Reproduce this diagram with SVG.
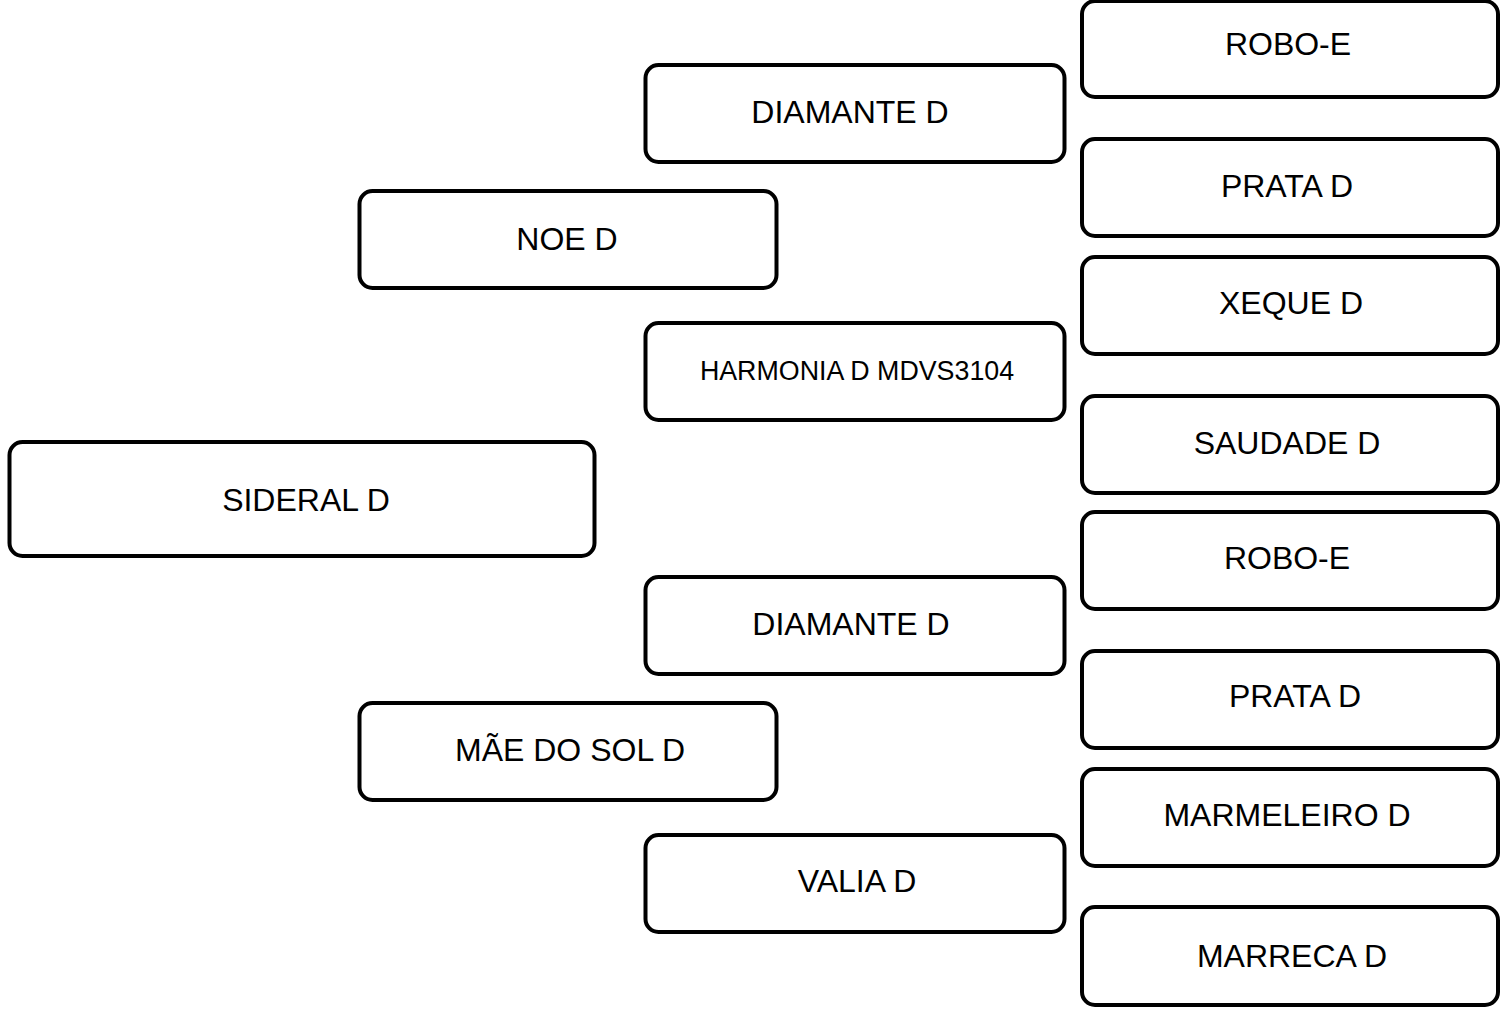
<svg xmlns="http://www.w3.org/2000/svg" width="1501" height="1011" viewBox="0 0 1501 1011">
<style>
.box{fill:#fff;stroke:#000;stroke-width:4}
.t{font-family:"Liberation Sans",Arial,sans-serif;font-size:32px;fill:#000;text-anchor:middle}
.s{font-size:26.8px}
</style>
<rect width="1501" height="1011" fill="#fff"/>
<g id="connectors"></g>
<g id="n-sideral"><rect class="box" x="9.5" y="442" width="585" height="114" rx="13"/><text class="t" x="306" y="510.5">SIDERAL D</text></g>
<g id="n-noe"><rect class="box" x="359.5" y="191" width="417" height="97" rx="13"/><text class="t" x="567" y="249.5">NOE D</text></g>
<g id="n-maedosol"><rect class="box" x="359.5" y="703" width="417" height="97" rx="13"/><text class="t" x="570" y="760.5">MÃE DO SOL D</text></g>
<g id="n-diamante1"><rect class="box" x="645.5" y="65" width="419" height="97" rx="13"/><text class="t" x="850" y="122.5">DIAMANTE D</text></g>
<g id="n-harmonia"><rect class="box" x="645.5" y="323" width="419" height="97" rx="13"/><text class="t s" x="857" y="380">HARMONIA D MDVS3104</text></g>
<g id="n-diamante2"><rect class="box" x="645.5" y="577" width="419" height="97" rx="13"/><text class="t" x="851" y="634.5">DIAMANTE D</text></g>
<g id="n-valia"><rect class="box" x="645.5" y="835" width="419" height="97" rx="13"/><text class="t" x="857" y="891.5">VALIA D</text></g>
<g id="n-robo1"><rect class="box" x="1082" y="1" width="416" height="96" rx="13"/><text class="t" x="1288" y="54.5">ROBO-E</text></g>
<g id="n-prata1"><rect class="box" x="1082" y="139" width="416" height="97" rx="13"/><text class="t" x="1287" y="196.5">PRATA D</text></g>
<g id="n-xeque"><rect class="box" x="1082" y="257" width="416" height="97" rx="13"/><text class="t" x="1291" y="313.5">XEQUE D</text></g>
<g id="n-saudade"><rect class="box" x="1082" y="396" width="416" height="97" rx="13"/><text class="t" x="1287" y="453.5">SAUDADE D</text></g>
<g id="n-robo2"><rect class="box" x="1082" y="512" width="416" height="97" rx="13"/><text class="t" x="1287" y="568.5">ROBO-E</text></g>
<g id="n-prata2"><rect class="box" x="1082" y="651" width="416" height="97" rx="13"/><text class="t" x="1295" y="706.5">PRATA D</text></g>
<g id="n-marmeleiro"><rect class="box" x="1082" y="769" width="416" height="97" rx="13"/><text class="t" x="1287" y="825.5">MARMELEIRO D</text></g>
<g id="n-marreca"><rect class="box" x="1082" y="907" width="416" height="98" rx="13"/><text class="t" x="1292" y="966.5">MARRECA D</text></g>
</svg>
